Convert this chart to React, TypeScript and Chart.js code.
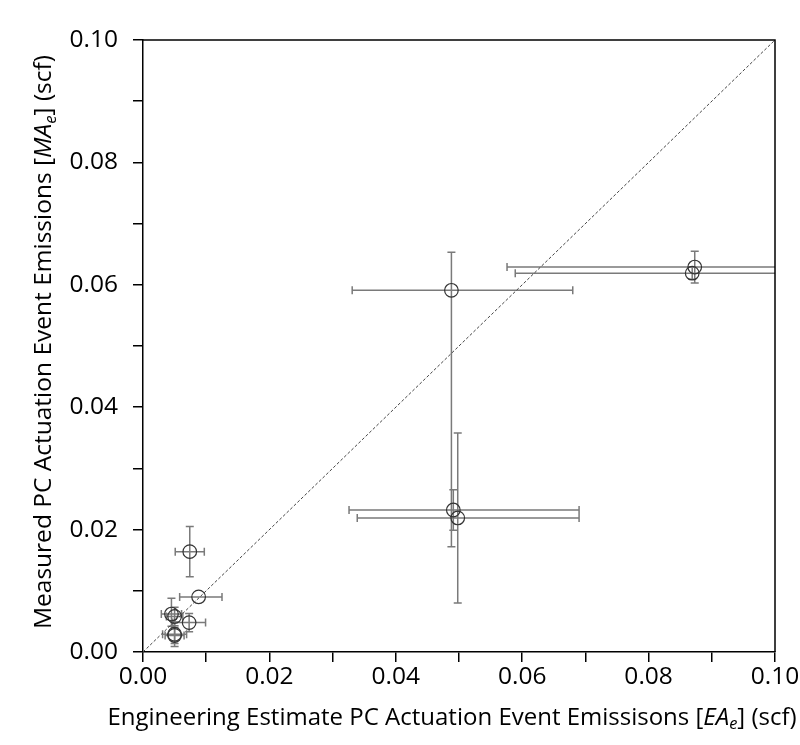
import React, { useEffect, useRef } from "react";
import { Chart, registerables } from "chart.js";

Chart.register(...registerables);

// Engineering estimate (x) and measured (y) emissions, scf
const estimate = [0.0074, 0.0088, 0.0045, 0.0050, 0.0073, 0.0050, 0.0050, 0.0488, 0.0491, 0.0498, 0.0869, 0.0873];
const measured = [0.0164, 0.0090, 0.0062, 0.0058, 0.0048, 0.0029, 0.0027, 0.0591, 0.0232, 0.0219, 0.0619, 0.0629];
// Error bars (minus / plus)
const estErrMinus = [0.0023, 0.0030, 0.0016, 0.0013, 0.0026, 0.0019, 0.0015, 0.0157, 0.0165, 0.0159, 0.0280, 0.0297];
const estErrPlus = [0.0023, 0.0037, 0.0016, 0.0013, 0.0026, 0.0019, 0.0015, 0.0192, 0.0199, 0.0192, 0.0280, 0.0297];
const measErrMinus = [0.0041, 0.0000, 0.0020, 0.0015, 0.0015, 0.0020, 0.0013, 0.0419, 0.0033, 0.0139, 0.0010, 0.0026];
const measErrPlus = [0.0041, 0.0000, 0.0026, 0.0015, 0.0015, 0.0020, 0.0013, 0.0062, 0.0033, 0.0139, 0.0010, 0.0026];
// 1:1 reference line
const diagonal = [0, 0.1];
// Axis ticks
const tickValues = [0, 0.01, 0.02, 0.03, 0.04, 0.05, 0.06, 0.07, 0.08, 0.09, 0.1];
const tickLabels = ["0.00", "", "0.02", "", "0.04", "", "0.06", "", "0.08", "", "0.10"];

const xTitle = [
  { t: "Engineering Estimate PC Actuation Event Emissisons [", i: false, s: false },
  { t: "EA", i: true, s: false },
  { t: "e", i: true, s: true },
  { t: "] (scf)", i: false, s: false },
];
const yTitle = [
  { t: "Measured PC Actuation Event Emissions [", i: false, s: false },
  { t: "MA", i: true, s: false },
  { t: "e", i: true, s: true },
  { t: "] (scf)", i: false, s: false },
];

const TITLE_FONT = "'Open Sans', sans-serif";

function drawRich(ctx: CanvasRenderingContext2D, segs: any[], size: number, cx: number, cy: number, rot: number) {
  const parts = segs.map((s) => {
    const sz = s.s ? size * 0.68 : size;
    const f = `${s.i ? "italic " : ""}${sz}px ${TITLE_FONT}`;
    ctx.font = f;
    return { ...s, f, w: ctx.measureText(s.t).width };
  });
  const total = parts.reduce((a, p) => a + p.w, 0);
  ctx.save();
  ctx.translate(cx, cy);
  ctx.rotate(rot);
  ctx.fillStyle = "#000";
  ctx.textBaseline = "middle";
  ctx.textAlign = "left";
  let x = -total / 2;
  for (const p of parts) {
    ctx.font = p.f;
    ctx.fillText(p.t, x, p.s ? size * 0.28 : 0);
    x += p.w;
  }
  ctx.restore();
}

const errorBarPlugin = {
  id: "errorBars",
  beforeDatasetsDraw(chart: any) {
    const { ctx, chartArea, scales } = chart;
    const xs = scales.x;
    const ys = scales.y;
    const cap = 4;
    ctx.save();
    ctx.beginPath();
    ctx.rect(chartArea.left, chartArea.top, chartArea.right - chartArea.left, chartArea.bottom - chartArea.top);
    ctx.clip();
    ctx.strokeStyle = "#7a7a7a";
    ctx.lineWidth = 1.5;
    estimate.forEach((ex, i) => {
      const my = measured[i];
      const px = xs.getPixelForValue(ex);
      const py = ys.getPixelForValue(my);
      const xl = xs.getPixelForValue(ex - estErrMinus[i]);
      const xr = xs.getPixelForValue(ex + estErrPlus[i]);
      const yt = ys.getPixelForValue(my + measErrPlus[i]);
      const yb = ys.getPixelForValue(my - measErrMinus[i]);
      ctx.beginPath();
      if (estErrMinus[i] > 0 || estErrPlus[i] > 0) {
        ctx.moveTo(xl, py);
        ctx.lineTo(xr, py);
        ctx.moveTo(xl, py - cap);
        ctx.lineTo(xl, py + cap);
        ctx.moveTo(xr, py - cap);
        ctx.lineTo(xr, py + cap);
      }
      if (measErrMinus[i] > 0 || measErrPlus[i] > 0) {
        ctx.moveTo(px, yt);
        ctx.lineTo(px, yb);
        ctx.moveTo(px - cap, yt);
        ctx.lineTo(px + cap, yt);
        ctx.moveTo(px - cap, yb);
        ctx.lineTo(px + cap, yb);
      }
      ctx.stroke();
    });
    ctx.restore();
  },
  afterDraw(chart: any) {
    const { ctx, chartArea } = chart;
    ctx.save();
    ctx.strokeStyle = "#000";
    ctx.lineWidth = 1.5;
    ctx.beginPath();
    ctx.moveTo(chartArea.left, chartArea.top);
    ctx.lineTo(chartArea.right, chartArea.top);
    ctx.lineTo(chartArea.right, chartArea.bottom);
    ctx.stroke();
    ctx.restore();
    drawRich(ctx, xTitle, 24, 452, 718, 0);
    drawRich(ctx, yTitle, 24.5, 44, 342, -Math.PI / 2);
  },
};

export default function App() {
  const ref = useRef<HTMLCanvasElement | null>(null);
  useEffect(() => {
    document.body.style.margin = "0";
    const canvas = ref.current;
    if (!canvas) return;
    const tickFont = { family: "'Open Sans', sans-serif", size: 24.5 };
    const chart = new Chart(canvas, {
      type: "scatter",
      data: {
        datasets: [
          {
            type: "line",
            data: diagonal.map((v) => ({ x: v, y: v })),
            borderColor: "#444",
            borderWidth: 1,
            borderDash: [3, 2],
            pointRadius: 0,
            fill: false,
          } as any,
          {
            type: "scatter",
            data: estimate.map((x, i) => ({ x, y: measured[i] })),
            pointRadius: 6.8,
            pointBorderColor: "#333",
            pointBackgroundColor: "rgba(0,0,0,0)",
            pointBorderWidth: 1.2,
          } as any,
        ],
      },
      options: {
        responsive: false,
        animation: false,
        devicePixelRatio: 1,
        layout: { padding: { top: 40, right: 25, left: 0, bottom: 0 } },
        plugins: { legend: { display: false }, tooltip: { enabled: false } },
        scales: {
          x: {
            type: "linear",
            min: 0,
            max: 0.1,
            afterBuildTicks: (s: any) => {
              s.ticks = tickValues.map((v) => ({ value: v }));
            },
            afterFit: (s: any) => {
              s.height = 93;
            },
            ticks: {
              autoSkip: false,
              maxRotation: 0,
              padding: 0,
              color: "#000",
              font: tickFont,
              callback: (_v: any, i: number) => tickLabels[i],
            },
            grid: { drawOnChartArea: false, drawTicks: true, tickLength: 10, color: "#000", lineWidth: 1.5 },
            border: { display: true, color: "#000", width: 1.5 },
          },
          y: {
            type: "linear",
            min: 0,
            max: 0.1,
            afterBuildTicks: (s: any) => {
              s.ticks = tickValues.map((v) => ({ value: v }));
            },
            afterFit: (s: any) => {
              s.width = 143;
            },
            ticks: {
              autoSkip: false,
              padding: 15,
              color: "#000",
              font: tickFont,
              callback: (_v: any, i: number) => tickLabels[i],
            },
            grid: { drawOnChartArea: false, drawTicks: true, tickLength: 10, color: "#000", lineWidth: 1.5 },
            border: { display: true, color: "#000", width: 1.5 },
          },
        },
      },
      plugins: [errorBarPlugin],
    });
    return () => chart.destroy();
  }, []);
  return (
    <div style={{ width: 800, height: 745, background: "#fff" }}>
      <canvas ref={ref} width={800} height={745} style={{ display: "block" }} />
    </div>
  );
}
